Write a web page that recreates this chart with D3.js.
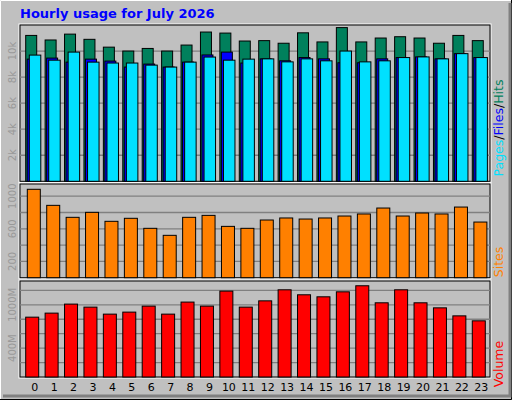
<!DOCTYPE html><html><head><meta charset="utf-8">
<script src="https://cdn.jsdelivr.net/npm/d3@7"></script>
<style>body{margin:0;background:#fff}</style></head><body><svg id="c" width="512" height="400"></svg>
<script>
const hours=d3.range(24).map(String);
const hits=[11.2,10.85,11.3,10.9,10.3,10.0,10.2,10.0,10.46,11.46,11.38,10.77,10.8,10.6,11.4,10.7,11.8,10.7,11.0,11.1,11.0,10.6,11.2,10.8].map(v=>v*1000);
const files=[9.38,9.46,9.15,9.38,9.23,8.77,9.0,8.77,9.15,9.7,9.92,9.08,9.4,9.25,9.5,9.4,9.1,9.1,9.4,9.5,9.55,9.4,9.8,9.5].map(v=>v*1000);
const pages=[9.69,9.3,9.92,9.15,9.08,9.08,8.92,8.77,9.15,9.54,9.3,9.38,9.4,9.17,9.4,9.25,10.0,9.17,9.25,9.5,9.55,9.4,9.8,9.5].map(v=>v*1000);
const sites=[1085,888,741,802,692,729,606,520,741,765,630,606,708,733,720,733,757,782,855,757,794,782,867,683];
const volume=[829,885,1010,968,871,899,982,871,1038,982,1190,968,1055,1208,1139,1111,1180,1264,1028,1208,1028,958,847,778];
const hitTicks=[2000,4000,6000,8000,10000],hitLbl=["2k","4k","6k","8k","10k"];
const siteTicks=[200,400,600,800,1000],siteLbl=["200","","600","","1000"];
const volTicks=[200,400,600,800,1000,1200],volLbl=["","400M","","","1000M",""];

const svg=d3.select("#c");
svg.append("rect").attr("x",0).attr("y",0).attr("width",512).attr("height",400).attr("fill","#c0c0c0");
svg.append("path").attr("d","M511.5,0V399.5H0").attr("fill","none").attr("stroke","#000");
svg.append("path").attr("d","M510,3V396H3").attr("fill","none").attr("stroke","#808080").attr("stroke-width",3);
svg.append("path").attr("d","M0.5,399V0.5H511").attr("fill","none").attr("stroke","#fff");
svg.append("text").attr("x",20).attr("y",18).attr("font-family","DejaVu Sans").attr("font-weight","bold").attr("font-size",13).attr("fill","#0000ff").text("Hourly usage for July 2026");

const x=d3.scaleBand().domain(hours).range([22,488]).padding(0);
const L=20,R=490;
function panel(y0,y1,max,ticks,lbls){
  const y=d3.scaleLinear().domain([0,max]).range([y1,y0]);
  svg.append("rect").attr("x",L-1).attr("y",y0-1).attr("width",R-L+2).attr("height",y1-y0+2).attr("fill","none").attr("stroke","#fff");
  svg.append("rect").attr("x",L).attr("y",y0).attr("width",R-L).attr("height",y1-y0).attr("fill","#c0c0c0").attr("stroke","#000");
  ticks.forEach((t,i)=>{
    svg.append("line").attr("x1",L).attr("x2",R).attr("y1",y(t)).attr("y2",y(t)).attr("stroke","#808080").attr("stroke-width",1.3);
    if(lbls[i]) svg.append("text").attr("transform",`translate(16,${y(t)}) rotate(-90)`).attr("text-anchor","middle").attr("font-family","DejaVu Sans").attr("font-size",10).attr("fill","#999").text(lbls[i]);
  });
  return y;
}
const yH=panel(25,181.3,12000,hitTicks,hitLbl);
const yS=panel(184,277.7,1150,siteTicks,siteLbl);
const yV=panel(281,377,1330,volTicks,volLbl);
function bars(data,y,off,w,col){
  svg.append("g").selectAll("rect").data(data).join("rect")
   .attr("x",(d,i)=>x(hours[i])+off).attr("y",d=>y(d)).attr("width",w).attr("height",d=>y(0)-y(d))
   .attr("fill",col).attr("stroke","#000").attr("stroke-width",1);
}
bars(hits,yH,3.7,11,"#00805c");
bars(files,yH,5.2,11,"#0000ff");
bars(pages,yH,7.3,11.5,"#00e0ff");
bars(sites,yS,5.3,13,"#ff8000");
bars(volume,yV,3.7,13,"#ff0000");
svg.append("g").selectAll("text").data(hours).join("text")
 .attr("x",d=>x(d)+x.bandwidth()/2+3).attr("y",391).attr("text-anchor","middle").attr("font-family","DejaVu Sans").attr("font-size",11).text(d=>d);
function rlab(parts,yc){
  const t=svg.append("text").attr("transform",`translate(503,${yc}) rotate(-90)`).attr("text-anchor","middle").attr("font-family","DejaVu Sans").attr("font-size",12.5);
  parts.forEach(p=>t.append("tspan").attr("fill",p[1]).text(p[0]));
}
rlab([["Pages","#00e0ff"],["/","#000"],["Files","#0000ff"],["/","#000"],["Hits","#00805c"]],128);
rlab([["Sites","#ff8000"]],262);
rlab([["Volume","#ff0000"]],364);
</script></body></html>
